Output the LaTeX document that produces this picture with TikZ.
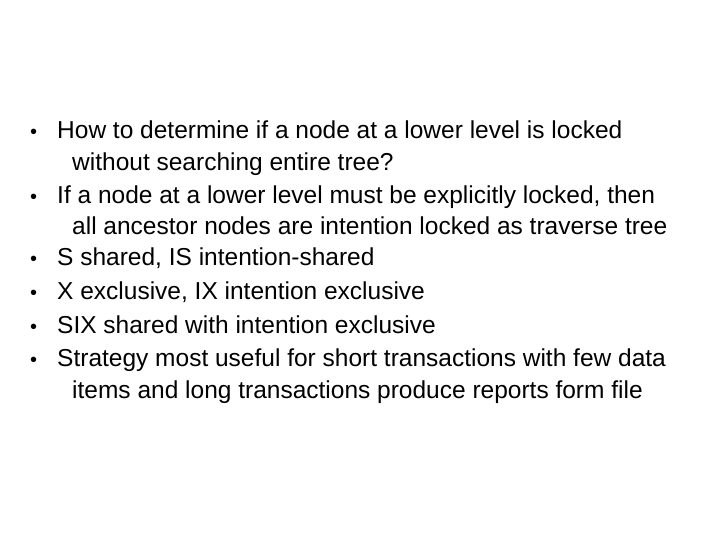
\documentclass[tikz,border=0pt]{standalone}
\usepackage{fontspec}
\setmainfont{Liberation Sans}
\begin{document}
\begin{tikzpicture}[x=1pt,y=-1pt,
  txt/.style={anchor=base west,inner sep=0pt,font=\fontsize{24.5}{28}\selectfont},
  bul/.style={anchor=base west,inner sep=0pt,font=\fontsize{20}{24}\selectfont}]
\useasboundingbox (0,0) rectangle (720,540);
\foreach \y/\t [count=\i] in {139/How to determine if a node at a lower level is locked,
  204/{If a node at a lower level must be explicitly locked, then},
  265/{S shared, IS intention-shared},
  299/{X exclusive, IX intention exclusive},
  333/SIX shared with intention exclusive,
  366/Strategy most useful for short transactions with few data}
{ \node[bul] (b\i) at (30,\y) {•}; \node[txt] (t\i) at (57,\y) {\t}; }
\node[txt] (w1) at (72,171) {without searching entire tree?};
\node[txt] (w2) at (72,235) {all ancestor nodes are intention locked as traverse tree};
\node[txt] (w6) at (72,398) {items and long transactions produce reports form file};
\end{tikzpicture}
\end{document}
